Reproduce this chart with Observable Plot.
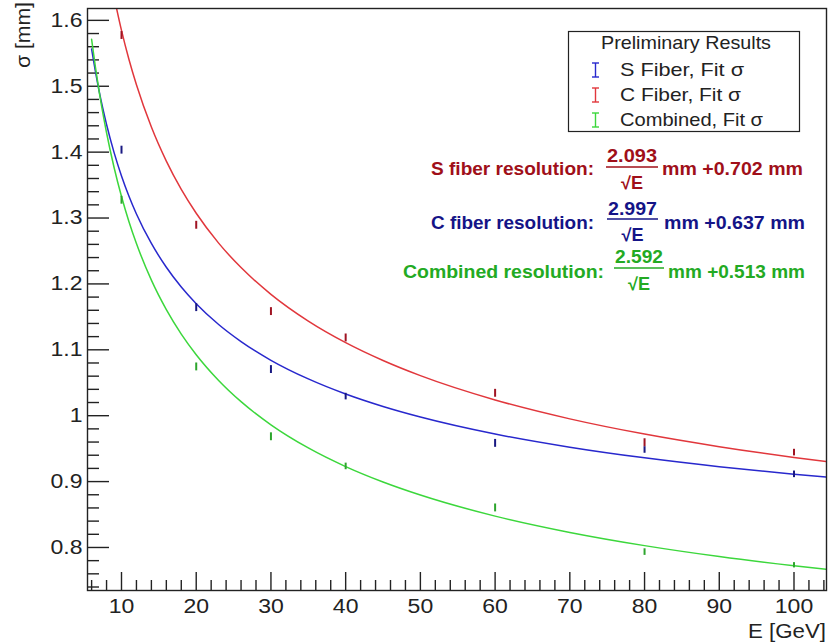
<!DOCTYPE html>
<html>
<head>
<meta charset="utf-8">
<script src="https://cdn.jsdelivr.net/npm/d3@7"></script>
<script src="https://cdn.jsdelivr.net/npm/@observablehq/plot@0.6"></script>
<style>
  html, body { margin: 0; padding: 0; background: white; }
  #wrap { position: relative; width: 837px; height: 643px; overflow: hidden; }
  #wrap svg { position: absolute; left: 0; top: 0; }
</style>
</head>
<body>
<div id="wrap"></div>
<script>
// ---- tick values / labels ----
const xMajor = [10, 20, 30, 40, 50, 60, 70, 80, 90, 100];
const yMajor = [0.8, 0.9, 1, 1.1, 1.2, 1.3, 1.4, 1.5, 1.6];

// ---- measured points (E in GeV, sigma in mm) ----
const E_pts = [10, 20, 30, 40, 60, 80, 100];
const ptsS = [1.403, 1.164, 1.070, 1.029, 0.958, 0.948, 0.911];
const ptsC = [1.577, 1.289, 1.158, 1.118, 1.034, 0.959, 0.944];
const ptsComb = [1.327, 1.074, 0.968, 0.923, 0.860, 0.793, 0.773];
const errS = [0.006, 0.006, 0.006, 0.005, 0.006, 0.005, 0.005];
const errC = [0.006, 0.006, 0.006, 0.006, 0.006, 0.006, 0.005];
const errComb = [0.006, 0.006, 0.006, 0.005, 0.006, 0.005, 0.004];

// ---- fit curves, values ----
const E_fit = [6, 6.5, 7, 7.5, 8, 9, 10, 11, 12, 14, 16, 18, 20, 23, 26, 30, 35, 40, 45, 50, 60, 70, 80, 90, 100, 104.3];
const fitS = [1.5565, 1.5229, 1.4931, 1.4663, 1.4420, 1.3997, 1.3639, 1.3331, 1.3062, 1.2614, 1.2253, 1.1953, 1.1700, 1.1384, 1.1125, 1.0841, 1.0558, 1.0329, 1.0140, 0.9980, 0.9722, 0.9522, 0.9360, 0.9226, 0.9113, 0.9069];
const fitComb = [1.5712, 1.5297, 1.4927, 1.4595, 1.4294, 1.3770, 1.3327, 1.2945, 1.2613, 1.2057, 1.1610, 1.1239, 1.0926, 1.0535, 1.0213, 0.9862, 0.9511, 0.9228, 0.8994, 0.8796, 0.8476, 0.8228, 0.8028, 0.7862, 0.7722, 0.7668];
const E_fitC = [9, 10, 11, 12, 14, 16, 18, 20, 23, 26, 30, 35, 40, 45, 50, 60, 70, 80, 90, 100, 104.3];
const fitC = [1.6360, 1.5847, 1.5406, 1.5022, 1.4380, 1.3863, 1.3434, 1.3072, 1.2619, 1.2248, 1.1842, 1.1436, 1.1109, 1.0838, 1.0608, 1.0239, 0.9952, 0.9721, 0.9530, 0.9367, 0.9305];

// ---- texts ----
const legendTitle = "Preliminary Results";
const legendLabels = ["S Fiber, Fit σ", "C Fiber, Fit σ", "Combined, Fit σ"];
const fitNames = ["S fiber resolution:", "C fiber resolution:", "Combined resolution:"];
const fitNumerators = ["2.093", "2.997", "2.592"];
const fitSuffixes = ["mm +0.702 mm", "mm +0.637 mm", "mm +0.513 mm"];
const xLabel = "E [GeV]";
const yLabel = "σ [mm]";

// ---- styles ----
const colLine = {S: "rgb(40,40,205)", C: "rgb(225,55,60)", Comb: "rgb(60,215,60)"};
const colPt = {S: "rgb(25,25,130)", C: "rgb(160,20,35)", Comb: "rgb(45,165,45)"};
const fitTextColors = ["rgb(160,15,25)", "rgb(20,20,135)", "rgb(35,170,35)"];
const legendColors = [colLine.S, colLine.C, colLine.Comb];
const textStretch = 1.15;

const W = 837, H = 643, mL = 87, mR = 11, mT = 8, mB = 53;
const innerW = W - mL - mR, innerH = H - mT - mB;

const xMinor = d3.range(6, 105, 2).filter(v => v % 10 !== 0);
const yMinor = d3.range(74, 161, 2).map(v => v / 100).filter(v => Math.round(v * 100) % 10 !== 0);

const pts = (E, ys, es) => E.map((e, i) => ({E: e, y: ys[i], err: es[i]}));
const fit = (E, ys) => E.map((e, i) => ({E: e, y: ys[i]}));

const chart = Plot.plot({
  width: W, height: H,
  marginLeft: mL, marginRight: mR, marginTop: mT, marginBottom: mB,
  x: {domain: [5.45, 104.35]},
  y: {domain: [0.7347, 1.618]},
  style: {fontFamily: "'Liberation Sans', Arial, sans-serif", fontSize: "20px", color: "black", background: "white"},
  marks: [
    Plot.tickY(yMinor, {y: d => d, insetRight: innerW - 12, stroke: "#222", strokeWidth: 1.4}),
    Plot.tickY(yMajor, {y: d => d, insetRight: innerW - 22, stroke: "#222", strokeWidth: 1.4}),
    Plot.tickX(xMinor, {x: d => d, insetTop: innerH - 10, stroke: "#222", strokeWidth: 1.4}),
    Plot.tickX(xMajor, {x: d => d, insetTop: innerH - 18, stroke: "#222", strokeWidth: 1.4}),
    Plot.axisY({ticks: yMajor, tickSize: 0, tickPadding: 5, label: null, tickFormat: d => String(d), fill: "#222"}),
    Plot.axisX({ticks: xMajor, tickSize: 0, tickPadding: 8, label: null, tickFormat: d => String(d), fill: "#222"}),
    Plot.line(fit(E_fitC, fitC), {x: "E", y: "y", stroke: colLine.C, strokeWidth: 1.5, curve: "monotone-x", clip: true}),
    Plot.line(fit(E_fit, fitS), {x: "E", y: "y", stroke: colLine.S, strokeWidth: 1.5, curve: "monotone-x", clip: true}),
    Plot.line(fit(E_fit, fitComb), {x: "E", y: "y", stroke: colLine.Comb, strokeWidth: 1.5, curve: "monotone-x", clip: true}),
    Plot.ruleX(pts(E_pts, ptsS, errS), {x: "E", y1: d => d.y - d.err, y2: d => d.y + d.err, stroke: colPt.S, strokeWidth: 2, clip: true}),
    Plot.ruleX(pts(E_pts, ptsC, errC), {x: "E", y1: d => d.y - d.err, y2: d => d.y + d.err, stroke: colPt.C, strokeWidth: 2, clip: true}),
    Plot.ruleX(pts(E_pts, ptsComb, errComb), {x: "E", y1: d => d.y - d.err, y2: d => d.y + d.err, stroke: colPt.Comb, strokeWidth: 2, clip: true}),
    Plot.frame({stroke: "#222", strokeWidth: 1.4})
  ]
});
document.getElementById("wrap").appendChild(chart);

// widen tick labels slightly (reference glyphs are horizontally wider)
d3.select(chart).selectAll("g[aria-label='y-axis tick label'] text, g[aria-label='x-axis tick label'] text")
  .each(function () {
    const len = this.getComputedTextLength();
    if (len > 0) {
      this.setAttribute("textLength", (len * textStretch).toFixed(1));
      this.setAttribute("lengthAdjust", "spacingAndGlyphs");
    }
  });

// ---- overlay: axis titles, legend, fit annotations ----
const ov = d3.select("#wrap").append("svg")
  .attr("width", W).attr("height", H)
  .style("pointer-events", "none")
  .style("font-family", "'Liberation Sans', Arial, sans-serif");

function stretch(sel, w) {
  return sel.attr("textLength", w).attr("lengthAdjust", "spacingAndGlyphs");
}

stretch(ov.append("text").text(xLabel)
  .attr("x", 826).attr("y", 638).attr("text-anchor", "end")
  .attr("font-size", 21).attr("fill", "#222"), 78);
stretch(ov.append("text").text(yLabel)
  .attr("transform", "translate(30,2) rotate(-90)").attr("text-anchor", "end")
  .attr("font-size", 21).attr("fill", "#222"), 66);

// legend
const legendWidths = [124, 121, 143];
const lg = ov.append("g");
lg.append("rect").attr("x", 568.5).attr("y", 31.5).attr("width", 231).attr("height", 100)
  .attr("fill", "white").attr("stroke", "#222").attr("stroke-width", 1.2);
stretch(lg.append("text").text(legendTitle).attr("x", 686).attr("y", 49)
  .attr("text-anchor", "middle").attr("font-size", 18.5).attr("fill", "#222"), 170);
legendLabels.forEach((lab, i) => {
  const base = 76 + i * 25;
  const c = legendColors[i];
  const g = lg.append("g").attr("stroke", c).attr("stroke-width", 1.4);
  g.append("line").attr("x1", 595.5).attr("x2", 595.5).attr("y1", base - 13).attr("y2", base + 1);
  g.append("line").attr("x1", 592).attr("x2", 599).attr("y1", base - 13).attr("y2", base - 13);
  g.append("line").attr("x1", 592).attr("x2", 599).attr("y1", base + 1).attr("y2", base + 1);
  stretch(lg.append("text").text(lab).attr("x", 620).attr("y", base)
    .attr("font-size", 18.5).attr("fill", "#222"), legendWidths[i]);
});

// fit annotations
const rows = [
  {labelEnd: 594, labelW: 163, fracL: 606, fracR: 658, numW: 50, base: 175, numBase: 162, bar: 167, denBase: 189, sufX: 662, sufW: 141},
  {labelEnd: 594, labelW: 163, fracL: 607, fracR: 658, numW: 49, base: 229, numBase: 215, bar: 219, denBase: 241, sufX: 664, sufW: 141},
  {labelEnd: 604, labelW: 201, fracL: 614, fracR: 664, numW: 48, base: 278, numBase: 263, bar: 268, denBase: 290, sufX: 668, sufW: 137}
];
rows.forEach((r, i) => {
  const c = fitTextColors[i];
  const g = ov.append("g").attr("fill", c).attr("font-weight", "bold");
  stretch(g.append("text").text(fitNames[i]).attr("x", r.labelEnd).attr("y", r.base)
    .attr("text-anchor", "end").attr("font-size", 18.5), r.labelW);
  const cx = (r.fracL + r.fracR) / 2;
  stretch(g.append("text").text(fitNumerators[i]).attr("x", cx).attr("y", r.numBase)
    .attr("text-anchor", "middle").attr("font-size", 17.5), r.numW);
  g.append("line").attr("x1", r.fracL).attr("x2", r.fracR).attr("y1", r.bar).attr("y2", r.bar)
    .attr("stroke", c).attr("stroke-width", 1.6);
  stretch(g.append("text").text("√E").attr("x", cx).attr("y", r.denBase)
    .attr("text-anchor", "middle").attr("font-size", 17.5), 22);
  stretch(g.append("text").text(fitSuffixes[i]).attr("x", r.sufX).attr("y", r.base)
    .attr("font-size", 18.5), r.sufW);
});
</script>
</body>
</html>
